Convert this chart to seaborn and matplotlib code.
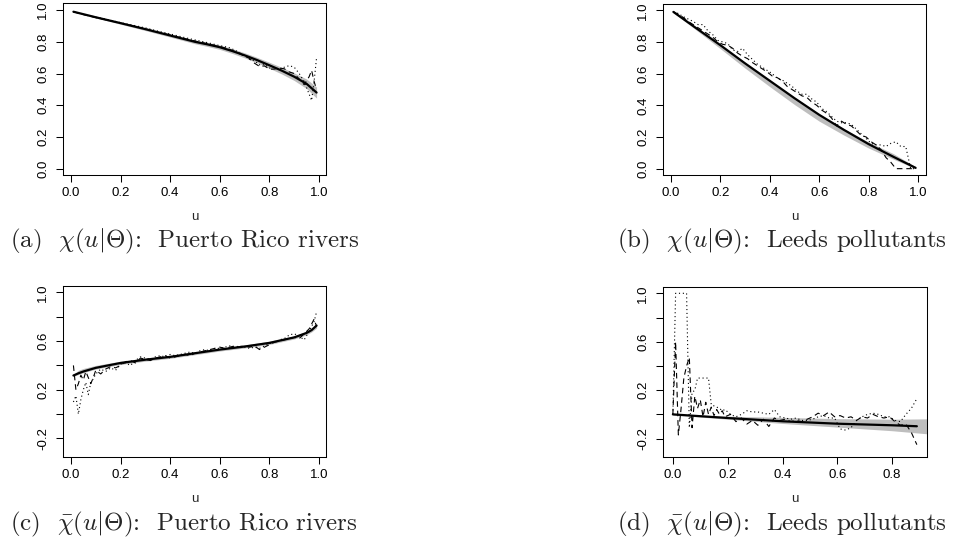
import numpy as np
import seaborn as sns
import matplotlib.pyplot as plt

# (a) chi(u|Theta): Puerto Rico rivers
fit_u_a = [0.01, 0.1, 0.2, 0.3, 0.4, 0.5, 0.55, 0.6, 0.65, 0.7, 0.75, 0.8, 0.85, 0.9, 0.95, 0.99]
fit_a = [0.99, 0.955, 0.918, 0.88, 0.84, 0.80, 0.784, 0.766, 0.742, 0.715, 0.685, 0.652, 0.618, 0.58, 0.535, 0.48]
band_lo_a = [0.988, 0.951, 0.911, 0.871, 0.83, 0.788, 0.771, 0.752, 0.727, 0.699, 0.668, 0.633, 0.597, 0.556, 0.505, 0.445]
band_hi_a = [0.992, 0.959, 0.925, 0.889, 0.85, 0.812, 0.797, 0.780, 0.757, 0.731, 0.702, 0.671, 0.639, 0.604, 0.565, 0.515]
emp_u_a = [0.01, 0.05, 0.1, 0.15, 0.2, 0.25, 0.3, 0.35, 0.4, 0.45, 0.5, 0.55, 0.6,
           0.62, 0.64, 0.66, 0.68, 0.7, 0.72, 0.74, 0.76, 0.78, 0.8, 0.82, 0.84,
           0.86, 0.88, 0.9, 0.92, 0.94, 0.96, 0.97, 0.98, 0.99]
dash_a = [0.99, 0.972, 0.953, 0.936, 0.918, 0.90, 0.882, 0.862, 0.843, 0.823, 0.805, 0.788, 0.77,
          0.762, 0.752, 0.74, 0.725, 0.71, 0.695, 0.665, 0.645, 0.648, 0.628, 0.628, 0.635,
          0.63, 0.61, 0.60, 0.565, 0.53, 0.58, 0.62, 0.55, 0.50]
dot_a = [0.99, 0.975, 0.956, 0.94, 0.921, 0.905, 0.888, 0.868, 0.85, 0.83, 0.812, 0.795, 0.776,
         0.77, 0.762, 0.748, 0.73, 0.712, 0.69, 0.68, 0.655, 0.66, 0.635, 0.64, 0.625,
         0.64, 0.65, 0.64, 0.60, 0.55, 0.47, 0.43, 0.55, 0.70]

# (b) chi(u|Theta): Leeds pollutants
fit_u_b = [0.01, 0.1, 0.2, 0.3, 0.4, 0.5, 0.6, 0.7, 0.8, 0.9, 0.99]
fit_b = [0.99, 0.89, 0.78, 0.665, 0.555, 0.445, 0.34, 0.245, 0.155, 0.075, 0.005]
band_lo_b = [0.985, 0.878, 0.758, 0.635, 0.518, 0.405, 0.30, 0.212, 0.13, 0.06, 0.0]
band_hi_b = [0.992, 0.895, 0.785, 0.67, 0.56, 0.45, 0.345, 0.252, 0.168, 0.095, 0.012]
emp_u_b = np.arange(1, 100, 2) / 100
dash_b = [0.99, 0.975, 0.955, 0.93, 0.91, 0.89, 0.87, 0.85, 0.83, 0.80,
          0.785, 0.78, 0.76, 0.73, 0.71, 0.695, 0.67, 0.65, 0.63, 0.61,
          0.585, 0.575, 0.555, 0.52, 0.50, 0.48, 0.46, 0.45, 0.42, 0.40,
          0.37, 0.35, 0.32, 0.27, 0.30, 0.28, 0.27, 0.24, 0.21, 0.20,
          0.17, 0.15, 0.12, 0.07, 0.04, 0.0, 0.0, 0.0, 0.0, 0.0]
dot_b = [0.99, 0.98, 0.96, 0.945, 0.93, 0.91, 0.91, 0.87, 0.845, 0.81,
         0.80, 0.79, 0.75, 0.74, 0.76, 0.72, 0.69, 0.66, 0.64, 0.62,
         0.60, 0.57, 0.56, 0.54, 0.52, 0.49, 0.47, 0.47, 0.44, 0.42,
         0.38, 0.36, 0.33, 0.30, 0.29, 0.29, 0.28, 0.25, 0.22, 0.19,
         0.16, 0.15, 0.15, 0.14, 0.16, 0.17, 0.14, 0.14, 0.0, 0.0]

# (c) chi-bar(u|Theta): Puerto Rico rivers
fit_u_c = [0.01, 0.03, 0.05, 0.1, 0.2, 0.3, 0.4, 0.5, 0.6, 0.7, 0.8, 0.9, 0.95, 0.97, 0.99]
fit_c = [0.317, 0.335, 0.35, 0.38, 0.42, 0.447, 0.47, 0.50, 0.53, 0.555, 0.585, 0.63, 0.667, 0.69, 0.727]
band_lo_c = [0.31, 0.325, 0.34, 0.37, 0.408, 0.435, 0.458, 0.488, 0.518, 0.543, 0.572, 0.617, 0.652, 0.675, 0.707]
band_hi_c = [0.325, 0.36, 0.375, 0.40, 0.435, 0.46, 0.483, 0.513, 0.543, 0.568, 0.598, 0.643, 0.68, 0.705, 0.745]
emp_u_c = np.r_[np.arange(1, 11), np.arange(12, 99, 2), 99] / 100
dash_c = [0.40, 0.20, 0.25, 0.32, 0.28, 0.35, 0.30, 0.25, 0.30, 0.36,
          0.33, 0.37, 0.39, 0.38, 0.40, 0.43, 0.44, 0.42, 0.46, 0.45,
          0.44, 0.46, 0.47, 0.48, 0.46, 0.47, 0.48, 0.49, 0.48, 0.50,
          0.51, 0.52, 0.53, 0.54, 0.55, 0.54, 0.55, 0.56, 0.55, 0.56,
          0.55, 0.56, 0.53, 0.55, 0.57, 0.59, 0.60, 0.61, 0.62, 0.63,
          0.62, 0.66, 0.70, 0.78, 0.72]
dot_c = [0.10, 0.15, 0.00, 0.12, 0.20, 0.26, 0.16, 0.26, 0.29, 0.33,
         0.37, 0.35, 0.38, 0.36, 0.41, 0.42, 0.40, 0.44, 0.47, 0.46,
         0.45, 0.47, 0.48, 0.47, 0.49, 0.48, 0.49, 0.50, 0.51, 0.50,
         0.52, 0.53, 0.52, 0.54, 0.54, 0.55, 0.56, 0.55, 0.56, 0.55,
         0.54, 0.55, 0.54, 0.56, 0.58, 0.59, 0.61, 0.62, 0.65, 0.66,
         0.64, 0.61, 0.68, 0.76, 0.84]

# (d) chi-bar(u|Theta): Leeds pollutants
fit_u_d = [0.0, 0.2, 0.4, 0.6, 0.8, 0.89]
fit_d = [0.0, -0.03, -0.057, -0.077, -0.09, -0.098]
band_u_d = [0.0, 0.2, 0.4, 0.6, 0.8, 1.0]
band_lo_d = [-0.005, -0.04, -0.075, -0.105, -0.135, -0.175]
band_hi_d = [0.005, -0.015, -0.025, -0.035, -0.04, -0.035]
emp_u_d = np.r_[np.arange(0, 20), np.arange(21, 88, 2), 89] / 100
dash_d = [0.0, 0.60, -0.17, 0.05, 0.30, 0.40, 0.47, -0.11, 0.15, 0.05,
          0.12, -0.02, 0.10, 0.0, 0.06, -0.01, 0.04, 0.0, 0.03, -0.02,
          0.0, -0.06, -0.03, -0.08, -0.05, -0.09, -0.04, -0.10, -0.03, -0.05,
          -0.04, -0.06, -0.05, -0.06, -0.04, -0.02, 0.01, -0.01, 0.02, -0.02,
          -0.01, -0.03, -0.02, -0.05, -0.02, -0.03, 0.0, -0.02, -0.03, -0.02,
          -0.06, -0.09, -0.08, -0.15, -0.25]
dot_d = [0.0, 1.0, 1.0, 1.0, 1.0, 1.0, -0.11, 0.18, 0.20, 0.30,
         0.30, 0.30, 0.30, 0.30, 0.08, 0.07, 0.06, 0.05, 0.03, 0.04,
         0.0, -0.02, 0.0, 0.03, 0.02, 0.02, 0.01, 0.0, 0.04, -0.02,
         -0.03, -0.04, -0.03, -0.05, -0.05, -0.04, -0.02, -0.01, -0.03, -0.03,
         -0.12, -0.13, -0.11, -0.05, -0.02, 0.0, 0.01, 0.0, -0.02, -0.02,
         -0.05, -0.06, 0.0, 0.05, 0.13]

captions = [r'(a)  $\chi(u|\Theta)$:  Puerto Rico rivers',
            r'(b)  $\chi(u|\Theta)$:  Leeds pollutants',
            r'(c)  $\bar{\chi}(u|\Theta)$:  Puerto Rico rivers',
            r'(d)  $\bar{\chi}(u|\Theta)$:  Leeds pollutants']

sns.set_theme(style='white')
plt.rcParams['font.family'] = ['Liberation Sans', 'DejaVu Sans']
plt.rcParams['mathtext.fontset'] = 'cm'

W, H = 961, 555
fig = plt.figure(figsize=(W / 100, H / 100), dpi=100)


def make_axes(left, top, right, bottom):
    return fig.add_axes([left / W, 1 - bottom / H, (right - left) / W, (bottom - top) / H])


def draw(ax, fu, fv, bu, blo, bhi, eu, ed, eo, xlim, ylim, xt, yt, ylab):
    ax.fill_between(bu, blo, bhi, color='#BEBEBE', lw=0, zorder=1)
    sns.lineplot(x=eu, y=eo, ax=ax, color='black', lw=0.8,
                 linestyle=(0, (1.0, 2.5)), zorder=2)
    sns.lineplot(x=eu, y=ed, ax=ax, color='black', lw=0.8,
                 linestyle=(0, (5, 3.5)), zorder=3)
    sns.lineplot(x=fu, y=fv, ax=ax, color='black', lw=1.6, zorder=4)
    ax.set_xlim(xlim)
    ax.set_ylim(ylim)
    ax.set_xticks(xt)
    ax.set_xticklabels([f'{t:.1f}' for t in xt])
    ax.set_yticks(yt)
    ax.set_yticklabels(ylab, rotation=90, va='center')
    ax.set_xlabel('u', fontsize=9.5, labelpad=8)
    ax.set_ylabel('')
    for s in ax.spines.values():
        s.set_color('black')
        s.set_linewidth(0.75)
    ax.tick_params(direction='out', length=5, width=0.75, labelsize=9.5,
                   color='black', labelcolor='black', pad=4)
    ax.tick_params(axis='y', pad=5)
    ax.tick_params(bottom=True, left=True)


xt10 = [0.0, 0.2, 0.4, 0.6, 0.8, 1.0]
yt_top = [0.0, 0.2, 0.4, 0.6, 0.8, 1.0]
lab_top = [f'{t:.1f}' for t in yt_top]
yt_bot = [-0.2, 0.0, 0.2, 0.4, 0.6, 0.8, 1.0]
lab_bot = ['-0.2', '', '0.2', '', '0.6', '', '1.0']

ax_a = make_axes(63, 3, 326, 175)
draw(ax_a, fit_u_a, fit_a, fit_u_a, band_lo_a, band_hi_a, emp_u_a, dash_a, dot_a,
     (-0.032, 1.028), (-0.04, 1.045), xt10, yt_top, lab_top)

ax_b = make_axes(663, 4, 926, 175)
draw(ax_b, fit_u_b, fit_b, fit_u_b, band_lo_b, band_hi_b, emp_u_b, dash_b, dot_b,
     (-0.032, 1.032), (-0.04, 1.04), xt10, yt_top, lab_top)

ax_c = make_axes(63, 286, 326, 457)
draw(ax_c, fit_u_c, fit_c, fit_u_c, band_lo_c, band_hi_c, emp_u_c, dash_c, dot_c,
     (-0.032, 1.028), (-0.352, 1.052), xt10, yt_bot, lab_bot)

ax_d = make_axes(663, 287, 927, 457)
draw(ax_d, fit_u_d, fit_d, band_u_d, band_lo_d, band_hi_d, emp_u_d, dash_d, dot_d,
     (-0.036, 0.927), (-0.352, 1.052), [0.0, 0.2, 0.4, 0.6, 0.8], yt_bot, lab_bot)

cap_pos = [(10, 241), (617, 241), (10, 524), (617, 524)]
for (px, py), txt in zip(cap_pos, captions):
    fig.text(px / W, 1 - py / H, txt, fontsize=18, family='cmr10',
             ha='left', va='center')

fig.savefig('out.png', dpi=100)
